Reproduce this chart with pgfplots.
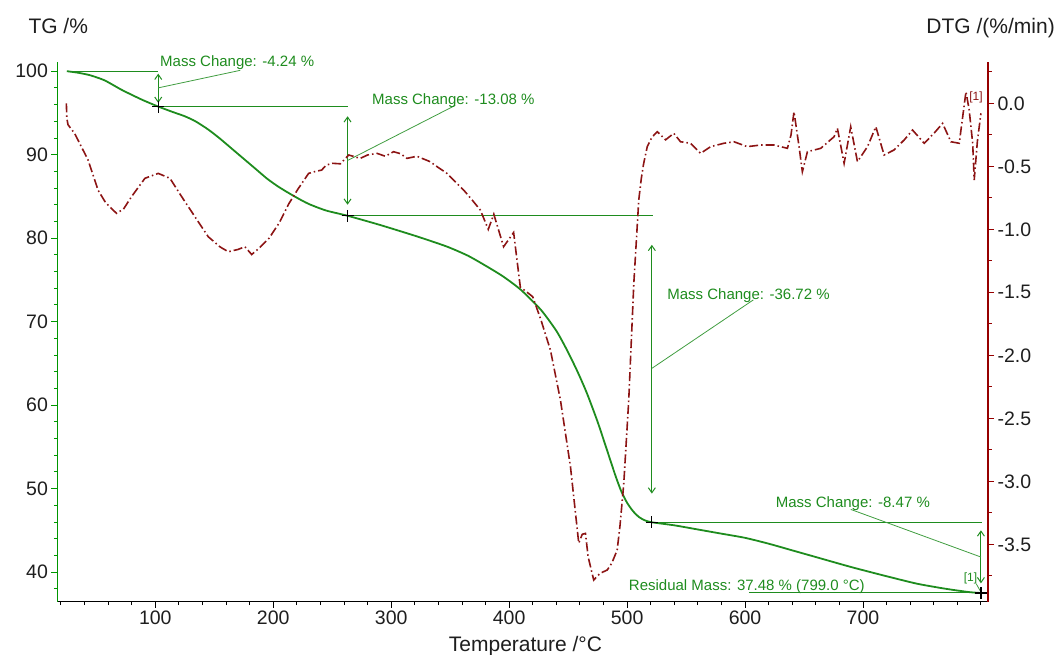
\documentclass[border=0pt]{standalone}
\usepackage{fontspec}
\setmainfont{Liberation Sans}
\usepackage{pgfplots}
\pgfplotsset{compat=1.18}
\usetikzlibrary{arrows.meta}
\definecolor{tgc}{RGB}{30,140,30}
\definecolor{dtgc}{RGB}{140,20,20}
\definecolor{axg}{RGB}{0,150,0}
\definecolor{axr}{RGB}{150,0,0}
\definecolor{txt}{RGB}{30,30,30}
\pgfplotstableread{
x y
25 100.0
35 99.8
45 99.5
57 98.9
71 97.8
81 97.1
90 96.5
102.5 95.76
115 95.1
125 94.6
134 94.0
145 93.0
155 91.9
165 90.7
175 89.5
185 88.3
195 87.1
205 86.1
218 85.0
230 84.1
245 83.3
263 82.68
290 81.6
322 80.2
347 79.0
365 77.9
380 76.7
395 75.4
410 73.8
427 71.4
440 68.9
449 66.6
458 64.0
466 61.4
475 58.0
483 54.6
490 51.6
495 49.7
500 48.3
505 47.3
510 46.6
515 46.2
521 45.96
540 45.6
560 45.1
580 44.6
600 44.1
620 43.4
640 42.6
660 41.8
690 40.6
720 39.5
746 38.6
770 38.0
790 37.6
800 37.49
}\tgdata
\pgfplotstableread{
x y
24.6 0.0
25 -0.12
26 -0.17
31.7 -0.24
43 -0.45
51.5 -0.69
58 -0.79
67.1 -0.873
73 -0.84
79.9 -0.74
91.2 -0.595
102.5 -0.556
112.4 -0.595
122.3 -0.74
133.6 -0.90
144.9 -1.059
155 -1.14
161.9 -1.178
170 -1.16
176 -1.138
181.7 -1.2
188 -1.15
196.5 -1.07
205 -0.95
213 -0.8
221 -0.68
230 -0.556
236 -0.54
241 -0.53
245 -0.49
250 -0.476
257 -0.48
264 -0.41
273.7 -0.437
280 -0.41
288 -0.397
295 -0.42
302 -0.384
308 -0.40
313.3 -0.437
321.8 -0.42
333 -0.463
340 -0.51
347.3 -0.556
354 -0.62
361.4 -0.688
368 -0.76
375.6 -0.847
382.3 -1.0
387 -0.88
395.3 -1.138
403.8 -1.025
409.5 -1.46
414 -1.49
420 -1.535
427 -1.72
435 -1.958
443.5 -2.355
452 -2.884
459 -3.49
462 -3.42
464.7 -3.413
467 -3.6
471.7 -3.783
477 -3.73
483.1 -3.704
487 -3.65
491.6 -3.545
494 -3.35
497.2 -3.016
501.4 -2.355
505.7 -1.429
509.9 -0.767
512 -0.6
514 -0.48
517.1 -0.344
521 -0.27
525.6 -0.225
532.6 -0.29
539.6 -0.238
545.3 -0.305
553.8 -0.317
562.3 -0.397
570.8 -0.344
582.1 -0.317
590.6 -0.305
601.9 -0.344
613.2 -0.331
624.5 -0.331
635.9 -0.357
639 -0.25
641.5 -0.066
645.8 -0.344
648.6 -0.543
652.9 -0.384
664.2 -0.357
675.5 -0.265
678.3 -0.198
684 -0.476
689.6 -0.186
695.3 -0.463
703.8 -0.344
710.9 -0.186
717.9 -0.41
726.4 -0.37
735 -0.29
742 -0.212
751.9 -0.317
760 -0.24
767.5 -0.159
774.5 -0.305
781.6 -0.317
787.3 0.092
790 -0.05
793 -0.317
794.3 -0.609
797 -0.3
800 -0.079
}\dtgdata
\begin{document}
\begin{tikzpicture}
\path[use as bounding box] (-57.4pt,-53.3pt) rectangle (1002.6pt,601.7pt);
\begin{axis}[
  scale only axis, width=930.6pt, height=539.7pt,
  xmin=17, xmax=806, ymin=36.45, ymax=101.1,
  axis x line*=bottom, axis y line*=left,
  x axis line style={black, line width=1.4pt},
  y axis line style={axg, line width=1.4pt},
  xtick={100,200,...,700}, minor xtick={20,40,...,800},
  ytick={40,50,...,100}, minor ytick={38,40,...,100},
  tick align=outside,
  major tick length=6pt, minor tick length=3.5pt,
  xtick style={black, line width=0.9pt},
  ytick style={axg, line width=0.9pt},
  tick label style={font=\fontsize{19.5}{22}\selectfont, text=txt},
  /pgf/number format/assume math mode=true,
  clip=false,
]
\addplot[tgc, line width=1.8pt, smooth, tension=0.4] table[x=x,y=y] {\tgdata};
% step lines
\draw[tgc, line width=1pt] (axis cs:25,100) -- (axis cs:102.5,100);
\draw[tgc, line width=1pt] (axis cs:102.5,95.76) -- (axis cs:263,95.76);
\draw[tgc, line width=1pt] (axis cs:263,82.68) -- (axis cs:522,82.68);
\draw[tgc, line width=1pt] (axis cs:521,45.96) -- (axis cs:800.5,45.96);
\draw[tgc, line width=1pt] (axis cs:603.3,37.5) -- (axis cs:800,37.5);
% double arrows
\draw[tgc, line width=1pt, {Straight Barb[length=5pt,width=7pt]}-{Straight Barb[length=5pt,width=7pt]}] (axis cs:102.5,99.7) -- (axis cs:102.5,96.2);
\draw[tgc, line width=1pt, {Straight Barb[length=5pt,width=7pt]}-{Straight Barb[length=5pt,width=7pt]}] (axis cs:263,94.6) -- (axis cs:263,84.0);
\draw[tgc, line width=1pt, {Straight Barb[length=5pt,width=7pt]}-{Straight Barb[length=5pt,width=7pt]}] (axis cs:521,79.2) -- (axis cs:521,49.4);
\draw[tgc, line width=1pt, {Straight Barb[length=5pt,width=7pt]}-{Straight Barb[length=5pt,width=7pt]}] (axis cs:800,45.0) -- (axis cs:800,38.65);
% leaders
\draw[tgc!85, line width=0.8pt] (axis cs:102.5,98.0) -- (axis cs:172,100.1);
\draw[tgc!85, line width=0.8pt] (axis cs:263,89.3) -- (axis cs:354.3,95.9);
\draw[tgc!85, line width=0.8pt] (axis cs:521,64.4) -- (axis cs:607,72.6);
\draw[tgc!85, line width=0.8pt] (axis cs:800,41.8) -- (axis cs:689.7,47.5);
\draw[tgc!85, line width=0.8pt] (axis cs:796,38.6) -- (axis cs:800,37.6);
% texts
\node[anchor=base west, text=tgc, font=\fontsize{15}{18}\selectfont, inner sep=0pt] at (axis cs:104,100.5) {Mass Change: -4.24 \%};
\node[anchor=base west, text=tgc, font=\fontsize{15}{18}\selectfont, inner sep=0pt] at (axis cs:283.7,96.05) {Mass Change: -13.08 \%};
\node[anchor=base west, text=tgc, font=\fontsize{15}{18}\selectfont, inner sep=0pt] at (axis cs:534,72.7) {Mass Change: -36.72 \%};
\node[anchor=base west, text=tgc, font=\fontsize{15}{18}\selectfont, inner sep=0pt] at (axis cs:626,47.75) {Mass Change: -8.47 \%};
\node[anchor=base west, text=tgc, font=\fontsize{15}{18}\selectfont, inner sep=0pt] at (axis cs:501.4,37.84) {Residual Mass: 37.48 \% (799.0 °C)};
\node[anchor=base east, text=tgc, font=\fontsize{12}{14}\selectfont, inner sep=0pt] at (axis cs:797,38.9) {[1]};
\addplot[only marks, mark=+, mark size=6pt, black, mark options={line width=1.2pt}] coordinates {(102.5,95.76) (263,82.68) (521,45.96) (800,37.49)};
\end{axis}
\begin{axis}[
  scale only axis, width=930.6pt, height=539.7pt,
  xmin=17, xmax=806, ymin=-3.955, ymax=0.328,
  axis x line=none, axis y line*=right,
  y axis line style={axr, line width=1.4pt},
  ytick={-3.5,-3,-2.5,-2,-1.5,-1,-0.5,0},
  minor ytick={-3.75,-3.25,-2.75,-2.25,-1.75,-1.25,-0.75,-0.25,0.25},
  tick align=outside,
  major tick length=6pt, minor tick length=3.5pt,
  ytick style={axr, line width=0.9pt},
  tick label style={font=\fontsize{19.5}{22}\selectfont, text=txt},
  yticklabel style={/pgf/number format/.cd, fixed, fixed zerofill, precision=1},
  /pgf/number format/assume math mode=true,
  clip=false,
]
\addplot[dtgc, line width=1.6pt, dash pattern=on 9pt off 3pt on 1.5pt off 3pt] table[x=x,y=y] {\dtgdata};
\node[anchor=base west, text=dtgc, font=\fontsize{12}{14}\selectfont, inner sep=0pt] at (axis cs:790,0.02) {[1]};
\end{axis}
\node[anchor=base west, font=\fontsize{21}{25}\selectfont, text=txt, inner sep=0pt] at (-29.1pt,568.4pt) {TG /\%};
\node[anchor=base east, font=\fontsize{21}{25}\selectfont, text=txt, inner sep=0pt] at (997.6pt,568.4pt) {DTG /(\%/min)};
\node[anchor=base, font=\fontsize{21}{25}\selectfont, text=txt, inner sep=0pt] at (468.1pt,-50pt) {Temperature /°C};
\end{tikzpicture}
\end{document}
